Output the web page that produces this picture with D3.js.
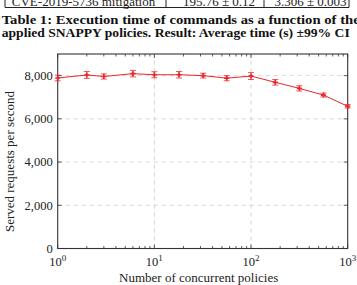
<!DOCTYPE html>
<html>
<head>
<meta charset="utf-8">
<script src="https://cdn.jsdelivr.net/npm/d3@7"></script>
<style>
  body { margin: 0; background: #fff; }
  svg { display: block; font-family: "Liberation Serif", "DejaVu Serif", serif; }
</style>
</head>
<body>
<div id="chart"></div>
<script>
// data
var policies = [1, 2, 3, 6, 10, 18, 32, 56, 100, 178, 316, 562, 1000];
var requests = [7890, 8030, 7960, 8090, 8040, 8040, 8000, 7880, 7980, 7690, 7410, 7100, 6580];
var errors = [130, 160, 120, 150, 140, 150, 110, 120, 160, 130, 120, 90, 80];
var yTicks = [0, 2000, 4000, 6000, 8000];
var xTicks = [1, 10, 100, 1000];

var tableRow = ["CVE-2019-5736 mitigation", "195.76 \u00b1 0.12", "3.306 \u00b1 0.003"];
var caption = ["Table 1: Execution time of commands as a function of the",
               "applied SNAPPY policies. Result: Average time (s) \u00b199% CI"];

var width = 357, height = 285;
var margin = {left: 57.7, right: 9.3, top: 54, bottom: 36};

var svg = d3.select("#chart").append("svg")
    .attr("width", width)
    .attr("height", height);

// cut-off table row at the very top (cut in the original too)
var cellX = [5, 166, 264, 349];
svg.append("line").attr("x1", cellX[0]).attr("x2", cellX[3])
    .attr("y1", 7.5).attr("y2", 7.5).attr("stroke", "#222").attr("stroke-width", 1);
cellX.forEach(function (x) {
    svg.append("line").attr("x1", x).attr("x2", x).attr("y1", -2).attr("y2", 7.5)
        .attr("stroke", "#222").attr("stroke-width", 1);
});
tableRow.forEach(function (t, i) {
    svg.append("text")
        .attr("x", (cellX[i] + cellX[i + 1]) / 2 + (i ? 4 : -2))
        .attr("y", 5.5)
        .attr("text-anchor", "middle")
        .style("font-size", "13px")
        .attr("fill", "#222")
        .text(t);
});

// caption
svg.append("text").attr("x", 1.7).attr("y", 23.5)
    .style("font-size", "13.5px").style("font-weight", "bold").attr("fill", "#111")
    .attr("textLength", 358).attr("lengthAdjust", "spacingAndGlyphs")
    .text(caption[0]);
svg.append("text").attr("x", 1.7).attr("y", 37)
    .style("font-size", "13.5px").style("font-weight", "bold").attr("fill", "#111")
    .attr("textLength", 348).attr("lengthAdjust", "spacingAndGlyphs")
    .text(caption[1]);

var x = d3.scaleLog().domain([1, 1000]).range([margin.left, width - margin.right]);
var y = d3.scaleLinear().domain([0, 9000]).range([height - margin.bottom - 0.5, margin.top]);

var x0 = x.range()[0], x1 = x.range()[1], y0 = y.range()[0], y1 = y.range()[1];

// dashed grid
var grid = svg.append("g").attr("stroke", "#cccccc").attr("stroke-width", 0.8)
    .attr("stroke-dasharray", "4,4");
grid.selectAll(".gy").data(yTicks.slice(1)).enter().append("line")
    .attr("x1", x0).attr("x2", x1)
    .attr("y1", function (d) { return y(d); }).attr("y2", function (d) { return y(d); });
grid.selectAll(".gx").data([10, 100]).enter().append("line")
    .attr("y1", y0).attr("y2", y1)
    .attr("x1", function (d) { return x(d); }).attr("x2", function (d) { return x(d); });

// minor + major ticks, pointing inwards on all four sides
var minor = [];
[1, 10, 100].forEach(function (dec) {
    for (var k = 2; k <= 9; k++) minor.push(dec * k);
});
var ticks = svg.append("g").attr("stroke", "#333").attr("stroke-width", 0.8);
function xTick(vals, len) {
    ticks.selectAll(null).data(vals).enter().append("line")
        .attr("x1", function (d) { return x(d); }).attr("x2", function (d) { return x(d); })
        .attr("y1", y0).attr("y2", y0 - len);
    ticks.selectAll(null).data(vals).enter().append("line")
        .attr("x1", function (d) { return x(d); }).attr("x2", function (d) { return x(d); })
        .attr("y1", y1).attr("y2", y1 + len);
}
xTick(minor, 2.5);
xTick(xTicks, 4);
ticks.selectAll(null).data(yTicks).enter().append("line")
    .attr("x1", x0).attr("x2", x0 + 4)
    .attr("y1", function (d) { return y(d); }).attr("y2", function (d) { return y(d); });
ticks.selectAll(null).data(yTicks).enter().append("line")
    .attr("x1", x1).attr("x2", x1 - 4)
    .attr("y1", function (d) { return y(d); }).attr("y2", function (d) { return y(d); });

// frame
svg.append("rect")
    .attr("x", x0).attr("y", y1)
    .attr("width", x1 - x0).attr("height", y0 - y1)
    .attr("fill", "none").attr("stroke", "#333").attr("stroke-width", 1.1);

// tick labels
var fmt = d3.format(",");
svg.selectAll(".yl").data(yTicks).enter().append("text")
    .attr("x", x0 - 5)
    .attr("y", function (d) { return y(d); })
    .attr("dy", "0.35em")
    .attr("text-anchor", "end")
    .style("font-size", "12.5px")
    .attr("fill", "#222")
    .text(function (d) { return fmt(d); });

var xl = svg.selectAll(".xl").data(xTicks).enter().append("text")
    .attr("x", function (d) { return x(d); })
    .attr("y", y0 + 17)
    .attr("text-anchor", "middle")
    .style("font-size", "12.5px")
    .attr("fill", "#222");
xl.append("tspan").text("10");
xl.append("tspan").attr("dy", -5).style("font-size", "9px")
    .text(function (d) { return Math.round(Math.log10(d)); });

// axis titles
svg.append("text")
    .attr("x", (x0 + x1) / 2 - 4)
    .attr("y", 282)
    .attr("text-anchor", "middle")
    .style("font-size", "13px")
    .attr("fill", "#222")
    .text("Number of concurrent policies");
svg.append("text")
    .attr("transform", "translate(13.5," + 161.5 + ") rotate(-90)")
    .attr("text-anchor", "middle")
    .style("font-size", "13px")
    .attr("fill", "#222")
    .text("Served requests per second");

// series
var pts = policies.map(function (p, i) { return {p: p, v: requests[i], e: errors[i]}; });
var red = "#e8262b";

svg.append("path")
    .datum(pts)
    .attr("fill", "none")
    .attr("stroke", red)
    .attr("stroke-width", 1)
    .attr("d", d3.line()
        .x(function (d) { return x(d.p); })
        .y(function (d) { return y(d.v); }));

var eb = svg.append("g").attr("stroke", red).attr("stroke-width", 0.9).attr("opacity", 0.85);
eb.selectAll(".ev").data(pts).enter().append("line")
    .attr("x1", function (d) { return x(d.p); }).attr("x2", function (d) { return x(d.p); })
    .attr("y1", function (d) { return y(d.v - d.e); }).attr("y2", function (d) { return y(d.v + d.e); });
[-1, 1].forEach(function (s) {
    eb.selectAll(null).data(pts).enter().append("line")
        .attr("x1", function (d) { return x(d.p) - 3; }).attr("x2", function (d) { return x(d.p) + 3; })
        .attr("y1", function (d) { return y(d.v + s * d.e); })
        .attr("y2", function (d) { return y(d.v + s * d.e); });
});

svg.selectAll(".mk").data(pts).enter().append("path")
    .attr("transform", function (d) { return "translate(" + x(d.p) + "," + y(d.v) + ")"; })
    .attr("d", d3.symbol().type(d3.symbolCross).size(14))
    .attr("fill", red);
</script>
</body>
</html>
